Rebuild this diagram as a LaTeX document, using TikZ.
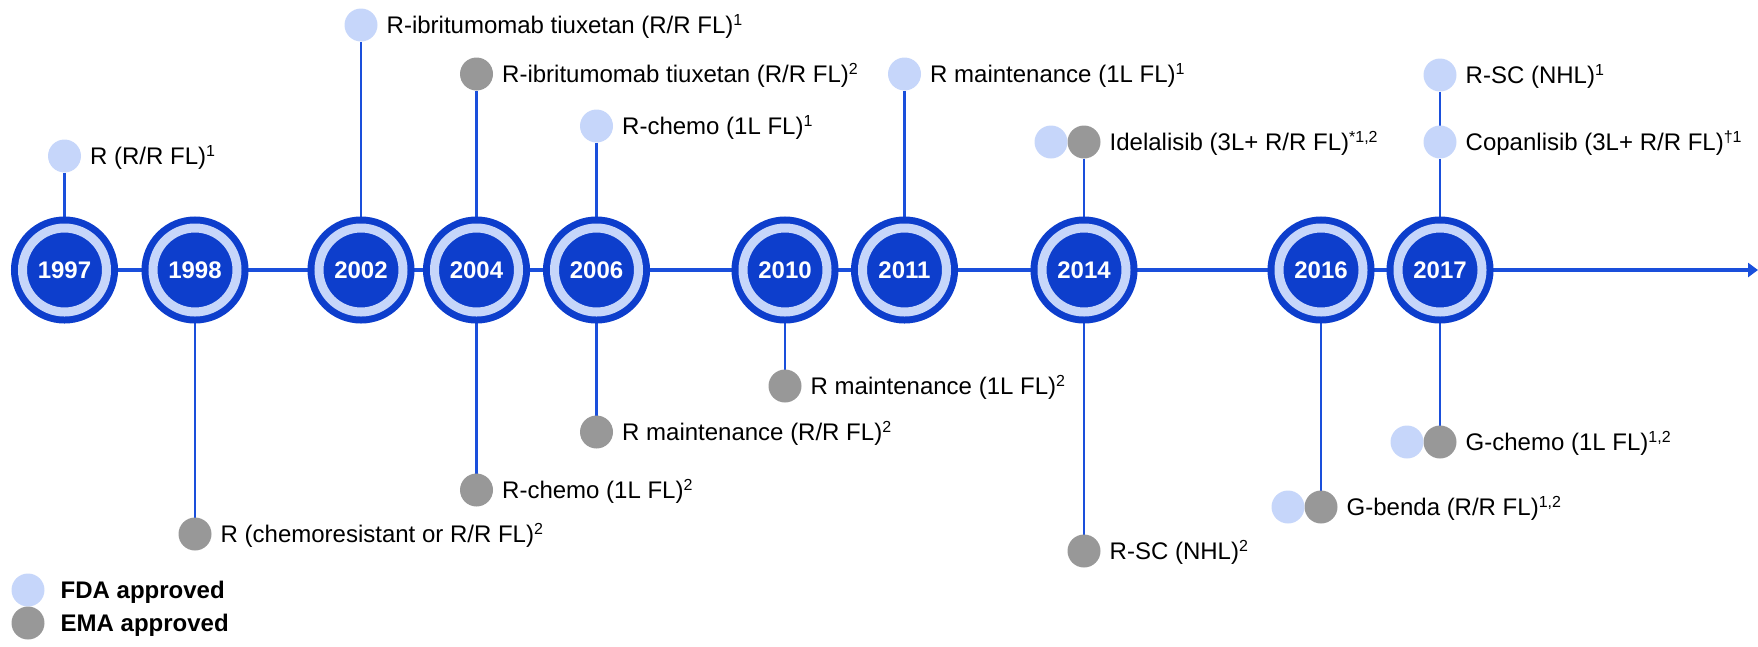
\documentclass[tikz,border=0pt]{standalone}
\usepackage{fontspec}
\setmainfont{Liberation Sans}
\usetikzlibrary{positioning,backgrounds,arrows.meta}
\definecolor{yearblue}{HTML}{0D3ECC}
\definecolor{fdablue}{HTML}{C6D6FA}
\definecolor{emagray}{HTML}{989898}
\definecolor{stemblue}{HTML}{1A4FDB}
\newcommand{\sups}[1]{\raisebox{8pt}{\fontsize{16}{16}\selectfont #1}}
\tikzset{
  yearnode/.style={circle, fill=yearblue, draw=yearblue, double=fdablue, double distance=9pt,
    line width=7pt, minimum size=84pt, inner sep=0pt, text=white, font=\fontsize{24}{24}\selectfont\bfseries},
  fda/.style={circle, fill=fdablue, minimum size=33pt, inner sep=0pt, outer sep=0pt},
  ema/.style={circle, fill=emagray, minimum size=33pt, inner sep=0pt, outer sep=0pt},
  lbl/.style={font=\fontsize{24}{24}\selectfont, inner sep=0pt, text height=17pt, text depth=0pt},
  legendtxt/.style={font=\fontsize{24}{24}\selectfont\bfseries, inner sep=0pt, text height=17pt, text depth=0pt},
  stem/.style={draw=stemblue, line width=2.8pt},
  timeline/.style={draw=stemblue, line width=3.5pt, -{Triangle[length=10pt,width=14pt]}}
}
\begin{document}
\begin{tikzpicture}[x=1pt,y=-1pt]
  \useasboundingbox (0,0) rectangle (1758,646);

  \node[yearnode] (y1997) at (64.5,270) {1997};
  \node[yearnode] (y1998) at (195,270) {1998};
  \node[yearnode] (y2002) at (361,270) {2002};
  \node[yearnode] (y2004) at (476.5,270) {2004};
  \node[yearnode] (y2006) at (596.5,270) {2006};
  \node[yearnode] (y2010) at (785,270) {2010};
  \node[yearnode] (y2011) at (904.5,270) {2011};
  \node[yearnode] (y2014) at (1084,270) {2014};
  \node[yearnode] (y2016) at (1321,270) {2016};
  \node[yearnode] (y2017) at (1440,270) {2017};
  \coordinate (tend) at (1758,270);

  % above the line
  \node[fda] (a1997) at (64.5,156) {};
  \node[lbl, right=9pt of a1997] {R (R/R FL)\sups{1}};
  \node[fda] (a2002) at (361,25) {};
  \node[lbl, right=9pt of a2002] {R-ibritumomab tiuxetan (R/R FL)\sups{1}};
  \node[ema] (a2004) at (476.5,74) {};
  \node[lbl, right=9pt of a2004] {R-ibritumomab tiuxetan (R/R FL)\sups{2}};
  \node[fda] (a2006) at (596.5,126) {};
  \node[lbl, right=9pt of a2006] {R-chemo (1L FL)\sups{1}};
  \node[fda] (a2011) at (904.5,74) {};
  \node[lbl, right=9pt of a2011] {R maintenance (1L FL)\sups{1}};
  \node[ema] (a2014) at (1084,142) {};
  \node[fda, left=0pt of a2014] (a2014f) {};
  \node[lbl, right=9pt of a2014] {Idelalisib (3L+ R/R FL)\sups{*1,2}};
  \node[fda] (a2017) at (1440,75) {};
  \node[lbl, right=9pt of a2017] {R-SC (NHL)\sups{1}};
  \node[fda] (b2017) at (1440,142) {};
  \node[lbl, right=9pt of b2017] {Copanlisib (3L+ R/R FL)\sups{†1}};

  % below the line
  \node[ema] (c1998) at (195,534) {};
  \node[lbl, right=9pt of c1998] {R (chemoresistant or R/R FL)\sups{2}};
  \node[ema] (c2004) at (476.5,490) {};
  \node[lbl, right=9pt of c2004] {R-chemo (1L FL)\sups{2}};
  \node[ema] (c2006) at (596.5,432) {};
  \node[lbl, right=9pt of c2006] {R maintenance (R/R FL)\sups{2}};
  \node[ema] (c2010) at (785,386) {};
  \node[lbl, right=9pt of c2010] {R maintenance (1L FL)\sups{2}};
  \node[ema] (c2014) at (1084,551) {};
  \node[lbl, right=9pt of c2014] {R-SC (NHL)\sups{2}};
  \node[ema] (c2016) at (1321,507) {};
  \node[fda, left=0pt of c2016] (c2016f) {};
  \node[lbl, right=9pt of c2016] {G-benda (R/R FL)\sups{1,2}};
  \node[ema] (c2017) at (1440,442) {};
  \node[fda, left=0pt of c2017] (c2017f) {};
  \node[lbl, right=9pt of c2017] {G-chemo (1L FL)\sups{1,2}};

  % legend
  \node[fda] (lfda) at (28,590) {};
  \node[legendtxt, right=16pt of lfda] {FDA approved};
  \node[ema] (lema) at (28,623) {};
  \node[legendtxt, right=16pt of lema] {EMA approved};

  \begin{scope}[on background layer]
    \draw[timeline] (y1997.center) -- (tend);
    \draw[stem] (a1997) -- (y1997);
    \draw[stem] (a2002) -- (y2002);
    \draw[stem] (a2004) -- (y2004);
    \draw[stem] (a2006) -- (y2006);
    \draw[stem] (a2011) -- (y2011);
    \draw[stem] (a2014) -- (y2014);
    \draw[stem] (a2017) -- (b2017) -- (y2017);
    \draw[stem] (y1998) -- (c1998);
    \draw[stem] (y2004) -- (c2004);
    \draw[stem] (y2006) -- (c2006);
    \draw[stem] (y2010) -- (c2010);
    \draw[stem] (y2014) -- (c2014);
    \draw[stem] (y2016) -- (c2016);
    \draw[stem] (y2017) -- (c2017);
  \end{scope}
\end{tikzpicture}
\end{document}
